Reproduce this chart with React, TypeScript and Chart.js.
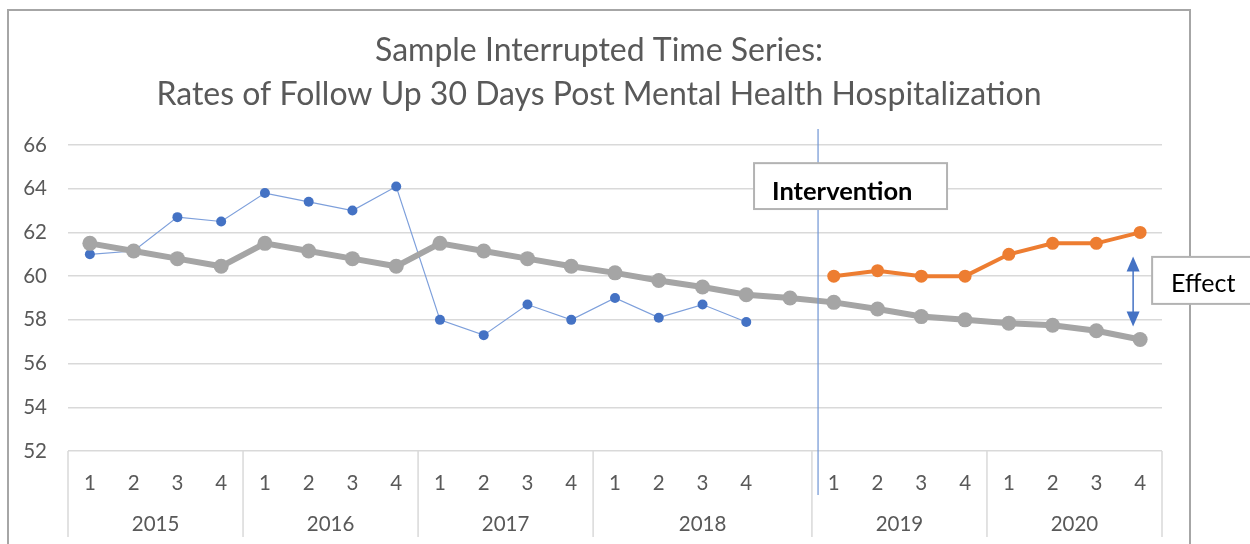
import React, { useEffect, useRef } from "react";
import { Chart, registerables } from "chart.js";

Chart.register(...registerables);

const quarterLabels = ["1", "2", "3", "4", "1", "2", "3", "4", "1", "2", "3", "4", "1", "2", "3", "4", "", "1", "2", "3", "4", "1", "2", "3", "4"];
const yearLabels = ["2015", "2016", "2017", "2018", "2019", "2020"];
const yearSpans = [4, 4, 4, 5, 4, 4];

const observedPre: (number | null)[] = [61.0, 61.15, 62.7, 62.5, 63.8, 63.4, 63.0, 64.1, 58.0, 57.3, 58.7, 58.0, 59.0, 58.1, 58.7, 57.9, null, null, null, null, null, null, null, null, null];
const trendLine: number[] = [61.5, 61.15, 60.8, 60.45, 61.5, 61.15, 60.8, 60.45, 61.5, 61.15, 60.8, 60.45, 60.15, 59.8, 59.5, 59.15, 59.0, 58.8, 58.5, 58.15, 58.0, 57.85, 57.75, 57.5, 57.1];
const observedPost: (number | null)[] = [null, null, null, null, null, null, null, null, null, null, null, null, null, null, null, null, null, 60.0, 60.25, 60.0, 60.0, 61.0, 61.5, 61.5, 62.0];

const yMin = 52;
const yMax = 66;
const yStep = 2;

const titleLines = ["Sample Interrupted Time Series:", "Rates of Follow Up 30 Days Post Mental Health Hospitalization"];
const interventionText = "Intervention";
const effectText = "Effect";
const interventionAt = 16.64; // category position of the intervention line
const effectAt = 23.84; // category position of the effect arrow
const effectTop = 60.9;
const effectBottom = 57.7;

const FONT = "Lato, 'Open Sans', sans-serif";
const GREY_TEXT = "#595959";

const decorPlugin = {
  id: "decor",
  beforeDraw(chart: any) {
    const { ctx, width, height } = chart;
    ctx.save();
    ctx.fillStyle = "#ffffff";
    ctx.fillRect(0, 0, width, height);
    // outer frame
    ctx.strokeStyle = "#a6a6a6";
    ctx.lineWidth = 2;
    ctx.strokeRect(8, 10, 1182, height + 20);
    // title
    ctx.fillStyle = GREY_TEXT;
    ctx.font = `32px ${FONT}`;
    ctx.textAlign = "center";
    ctx.textBaseline = "middle";
    const cx = 599;
    ctx.fillText(titleLines[0], cx, 51);
    ctx.fillText(titleLines[1], cx, 95);
    ctx.restore();
  },
  afterDraw(chart: any) {
    const { ctx, chartArea } = chart;
    const x = chart.scales.x;
    const y = chart.scales.y;
    ctx.save();
    // category group separators and year labels
    ctx.strokeStyle = "#d9d9d9";
    ctx.lineWidth = 1.5;
    let start = 0;
    const bounds = [0];
    yearSpans.forEach((s) => {
      start += s;
      bounds.push(start);
    });
    bounds.forEach((b) => {
      const px = x.getPixelForValue(b - 0.5);
      ctx.beginPath();
      ctx.moveTo(px, chartArea.bottom);
      ctx.lineTo(px, chartArea.bottom + 86);
      ctx.stroke();
    });
    ctx.fillStyle = GREY_TEXT;
    ctx.font = `20.5px ${FONT}`;
    ctx.textAlign = "center";
    ctx.textBaseline = "middle";
    for (let i = 0; i < yearLabels.length; i++) {
      const a = x.getPixelForValue(bounds[i] - 0.5);
      const b = x.getPixelForValue(bounds[i + 1] - 0.5);
      ctx.fillText(yearLabels[i], (a + b) / 2, chartArea.bottom + 73);
    }

    // intervention line
    const ix = x.getPixelForValue(interventionAt);
    ctx.strokeStyle = "#6f94d4";
    ctx.lineWidth = 1.2;
    ctx.beginPath();
    ctx.moveTo(ix, y.getPixelForValue(66.73));
    ctx.lineTo(ix, chartArea.bottom + 44);
    ctx.stroke();

    // intervention box
    const bx = ix - 64;
    const by = y.getPixelForValue(65.17);
    const bh = y.getPixelForValue(63.07) - by;
    ctx.fillStyle = "#ffffff";
    ctx.fillRect(bx, by, 193, bh);
    ctx.strokeStyle = "#b3b3b3";
    ctx.lineWidth = 2;
    ctx.strokeRect(bx, by, 193, bh);
    ctx.fillStyle = "#000000";
    ctx.font = `bold 25.5px ${FONT}`;
    ctx.textAlign = "left";
    ctx.textBaseline = "alphabetic";
    ctx.fillText(interventionText, bx + 18, by + 37);

    // effect arrow
    const ax = x.getPixelForValue(effectAt);
    const ay1 = y.getPixelForValue(effectTop);
    const ay2 = y.getPixelForValue(effectBottom);
    ctx.strokeStyle = "#4472c4";
    ctx.fillStyle = "#4472c4";
    ctx.lineWidth = 1.5;
    ctx.beginPath();
    ctx.moveTo(ax, ay1 + 10);
    ctx.lineTo(ax, ay2 - 10);
    ctx.stroke();
    ctx.beginPath();
    ctx.moveTo(ax, ay1);
    ctx.lineTo(ax - 6.5, ay1 + 15);
    ctx.lineTo(ax + 6.5, ay1 + 15);
    ctx.closePath();
    ctx.fill();
    ctx.beginPath();
    ctx.moveTo(ax, ay2);
    ctx.lineTo(ax - 6.5, ay2 - 15);
    ctx.lineTo(ax + 6.5, ay2 - 15);
    ctx.closePath();
    ctx.fill();

    // effect box (runs past the right edge)
    const ex = ax + 19;
    const ey = y.getPixelForValue(60.88);
    const eh = y.getPixelForValue(58.73) - ey;
    ctx.fillStyle = "#ffffff";
    ctx.fillRect(ex, ey, 160, eh);
    ctx.strokeStyle = "#b3b3b3";
    ctx.lineWidth = 2;
    ctx.strokeRect(ex, ey, 160, eh);
    ctx.fillStyle = "#000000";
    ctx.font = `25px ${FONT}`;
    ctx.textAlign = "left";
    ctx.textBaseline = "alphabetic";
    ctx.fillText(effectText, ex + 19, ey + 35);
    ctx.restore();
  },
};

export default function App() {
  const canvasRef = useRef<HTMLCanvasElement | null>(null);

  useEffect(() => {
    if (!canvasRef.current) return;
    const chart = new Chart(canvasRef.current, {
      type: "line",
      data: {
        labels: quarterLabels,
        datasets: [
          {
            label: "Trend",
            data: trendLine,
            borderColor: "#a5a5a5",
            backgroundColor: "#a5a5a5",
            borderWidth: 6,
            pointRadius: 7.5,
            pointHoverRadius: 7.5,
            pointBorderWidth: 0,
            tension: 0,
            order: 0,
          },
          {
            label: "Post",
            data: observedPost,
            borderColor: "#ed7d31",
            backgroundColor: "#ed7d31",
            borderWidth: 4,
            pointRadius: 6.5,
            pointBorderWidth: 0,
            tension: 0,
            spanGaps: false,
            order: 1,
          },
          {
            label: "Pre",
            data: observedPre,
            borderColor: "#7d9fdb",
            backgroundColor: "#4472c4",
            borderWidth: 1.2,
            pointRadius: 5,
            pointBorderWidth: 0,
            tension: 0,
            spanGaps: false,
            order: 2,
          },
        ],
      },
      options: {
        animation: false,
        responsive: false,
        maintainAspectRatio: false,
        layout: { padding: { top: 145, right: 88, left: 0, bottom: 0 } },
        plugins: {
          legend: { display: false },
          title: { display: false },
          tooltip: { enabled: false },
        },
        scales: {
          x: {
            type: "category",
            offset: true,
            grid: { display: false, drawTicks: false, offset: true },
            border: { display: false },
            ticks: {
              autoSkip: false,
              maxRotation: 0,
              minRotation: 0,
              padding: 20,
              color: GREY_TEXT,
              font: { family: FONT, size: 20.5 },
            },
            afterFit: (scale: any) => {
              scale.height = 93;
            },
          },
          y: {
            min: yMin,
            max: yMax,
            grid: { color: "#d9d9d9", lineWidth: 1.5, drawTicks: false },
            border: { display: false },
            ticks: {
              stepSize: yStep,
              padding: 21,
              color: GREY_TEXT,
              font: { family: FONT, size: 20.5 },
            },
            afterFit: (scale: any) => {
              scale.width = 68;
            },
          },
        },
      },
      plugins: [decorPlugin],
    });
    return () => chart.destroy();
  }, []);

  return (
    <div style={{ position: "fixed", left: 0, top: 0, width: 1250, height: 544 }}>
      <canvas ref={canvasRef} width={1250} height={544} style={{ width: 1250, height: 544, display: "block" }} />
    </div>
  );
}
